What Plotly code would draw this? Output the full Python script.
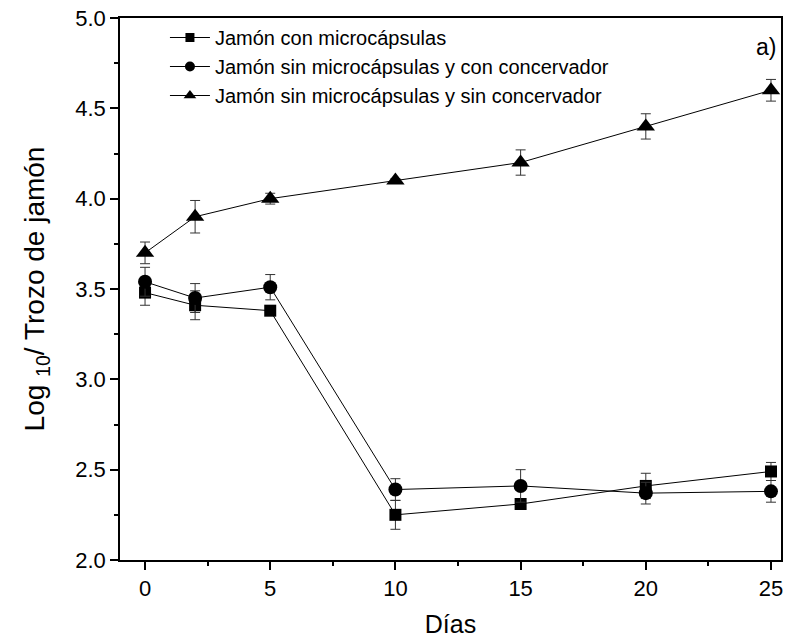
import plotly.graph_objects as go

dias = [0, 2, 5, 10, 15, 20, 25]

con_micro = [3.48, 3.41, 3.38, 2.25, 2.31, 2.41, 2.49]
con_micro_err = [0.07, 0.08, 0.02, 0.08, 0.01, 0.07, 0.05]

sin_micro_con = [3.54, 3.45, 3.51, 2.39, 2.41, 2.37, 2.38]
sin_micro_con_err = [0.08, 0.08, 0.07, 0.06, 0.09, 0.06, 0.06]

sin_micro_sin = [3.70, 3.90, 4.00, 4.10, 4.20, 4.40, 4.60]
sin_micro_sin_err = [0.06, 0.09, 0.03, 0.01, 0.07, 0.07, 0.06]

names = [
    "Jamón con microcápsulas",
    "Jamón sin microcápsulas y con concervador",
    "Jamón sin microcápsulas y sin concervador",
]

x_ticks = [0, 5, 10, 15, 20, 25]
y_ticks = [2.0, 2.5, 3.0, 3.5, 4.0, 4.5, 5.0]
y_tick_labels = ["2.0", "2.5", "3.0", "3.5", "4.0", "4.5", "5.0"]

FONT = "Liberation Sans, Arial, sans-serif"

series = [
    (con_micro, con_micro_err, "square", 12, 9),
    (sin_micro_con, sin_micro_con_err, "circle", 14, 10),
    (sin_micro_sin, sin_micro_sin_err, "triangle-up", 16, 11),
]

fig = go.Figure()
for name, (vals, errs, sym, sz, lsz) in zip(names, series):
    fig.add_trace(go.Scatter(
        x=dias, y=vals, name=name, mode="lines+markers", showlegend=False,
        line=dict(color="black", width=1),
        marker=dict(symbol=sym, size=sz, color="black"),
        error_y=dict(type="data", array=errs, visible=True,
                     color="#333333", thickness=1, width=5),
    ))
    # legend entry with smaller symbol, as in the reference
    fig.add_trace(go.Scatter(
        x=[None], y=[None], name=name, mode="lines+markers",
        line=dict(color="black", width=1),
        marker=dict(symbol=sym, size=lsz, color="black"),
    ))

fig.add_annotation(x=0.995, y=0.947, xref="paper", yref="paper", text="a)",
                   showarrow=False, xanchor="right", yanchor="middle",
                   font=dict(size=23, color="black", family=FONT))

axis_common = dict(
    showline=True, linecolor="black", linewidth=1.5, mirror=True,
    ticks="outside", ticklen=8, tickwidth=1.5, tickcolor="black",
    showgrid=False, zeroline=False,
    tickfont=dict(size=22, color="black", family=FONT),
)

fig.update_xaxes(
    range=[-1.0, 25.4], tickvals=x_ticks,
    minor=dict(dtick=2.5, tick0=0, ticks="outside", ticklen=4, tickcolor="black", tickwidth=1.5),
    title=dict(text="Días", font=dict(size=25, color="black", family=FONT), standoff=15),
    **axis_common,
)
fig.update_yaxes(
    range=[2.0, 5.0], tickvals=y_ticks, ticktext=y_tick_labels,
    minor=dict(dtick=0.25, tick0=2.0, ticks="outside", ticklen=4, tickcolor="black", tickwidth=1.5),
    title=dict(text="Log <sub>10</sub>/ Trozo de jamón", font=dict(size=28, color="black", family=FONT), standoff=22),
    **axis_common,
)

fig.update_layout(
    width=788, height=642,
    margin=dict(l=120, r=5, t=18, b=82),
    paper_bgcolor="white", plot_bgcolor="white",
    font=dict(family=FONT, color="black"),
    showlegend=True,
    legend=dict(x=0.068, y=1.0, xanchor="left", yanchor="top",
                bgcolor="rgba(0,0,0,0)", font=dict(size=20, color="black", family=FONT),
                itemwidth=40, tracegroupgap=0),
)

fig.write_html(
    "out.html",
    config={"displayModeBar": False},
    post_script="document.body.style.margin='0';document.body.style.overflow='hidden';",
)
